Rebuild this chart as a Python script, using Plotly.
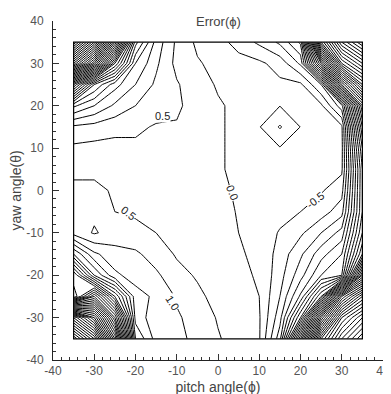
import plotly.graph_objects as go

# grid of pitch (x) and yaw (y) angles, degrees
pitch = [-35, -30, -25, -20, -15, -10, -5, 0, 5, 10, 15, 20, 25, 30, 35]
yaw = [35, 30, 25, 20, 15, 10, 5, 0, -5, -10, -15, -20, -25, -30, -35]

# Error(phi) values, one row per yaw value (top row = yaw 35)
err_y35 = [20, 16, 10, 3.2, 1.3, 0.4, -0.1, -0.3, -0.7, -1.1, -1.6, -2.6, -12, -16, -18]
err_y30 = [15, 11, 5.5, 2.0, 1.1, 0.35, 0.05, -0.15, -0.3, -0.4, -0.7, -1.6, -7, -13, -15]
err_y25 = [7, 3.5, 2.2, 1.5, 0.9, 0.55, 0.2, -0.05, -0.2, -0.3, -0.4, -0.4, -1.5, -8, -12]
err_y20 = [2.6, 2.0, 1.4, 1.0, 0.75, 0.6, 0.25, 0.05, -0.1, -0.3, -0.49, -0.47, -0.4, -1.8, -8]
err_y15 = [0.9, 0.8, 0.65, 0.6, 0.45, 0.45, 0.2, 0.05, -0.1, -0.47, -1.05, -0.49, -0.3, -0.4, -6.5]
err_y10 = [0.4, 0.35, 0.35, 0.4, 0.45, 0.4, 0.2, 0.05, -0.1, -0.2, -0.47, -0.4, -0.3, -0.35, -5.5]
err_y05 = [0.45, 0.4, 0.35, 0.3, 0.25, 0.2, 0.15, 0.05, -0.1, -0.15, -0.2, -0.25, -0.3, -0.4, -5]
err_y00 = [0.55, 0.6, 0.45, 0.3, 0.25, 0.2, 0.15, 0.08, -0.05, -0.15, -0.2, -0.3, -0.45, -0.8, -5]
err_ym05 = [0.7, 0.6, 0.5, 0.45, 0.35, 0.25, 0.15, 0.1, -0.02, -0.15, -0.3, -0.5, -0.75, -1.3, -5]
err_ym10 = [0.8, 0.45, 0.7, 0.6, 0.5, 0.35, 0.2, 0.1, 0.0, -0.15, -0.55, -0.9, -1.5, -2.2, -5.5]
err_ym15 = [3.0, 1.6, 1.2, 1.1, 0.75, 0.45, 0.3, 0.2, 0.05, -0.1, -0.7, -1.4, -2.3, -3, -6.5]
err_ym20 = [6, 3, 1.6, 1.3, 1.1, 0.65, 0.45, 0.3, 0.1, -0.05, -0.8, -1.8, -3, -3.5, -10]
err_ym25 = [5, 8, 4.5, 1.7, 1.4, 0.95, 0.6, 0.35, 0.15, 0.0, -1.0, -2.6, -5.5, -12, -15]
err_ym30 = [16, 13, 8, 1.8, 1.2, 1.05, 0.85, 0.45, 0.2, 0.05, -1.3, -4.5, -11, -16, -18]
err_ym35 = [20, 17, 11, 2.5, 1.3, 1.1, 0.9, 0.55, 0.25, 0.05, -1.8, -8, -15, -18, -20]

z = [err_y35, err_y30, err_y25, err_y20, err_y15, err_y10, err_y05, err_y00,
     err_ym05, err_ym10, err_ym15, err_ym20, err_ym25, err_ym30, err_ym35]

tick_vals = [-40, -30, -20, -10, 0, 10, 20, 30, 40]
tick_text = ["-40", "-30", "-20", "-10", "0", "10", "20", "30", "40"]

# contour labels: (text, pitch, yaw, angle)
label_text = ["0.5", "0.5", "1.0", "0.0", "-0.5"]
label_x = [-13.5, -21.7, -11, 3.6, 23.6]
label_y = [17.5, -5.3, -26.5, -0.5, -2.3]
label_angle = [0, 38, 58, 68, -38]

fig = go.Figure()
fig.add_trace(go.Contour(
    x=pitch, y=yaw, z=z,
    contours=dict(start=-20, end=20, size=0.5, coloring="lines"),
    colorscale=[[0, "black"], [1, "black"]],
    showscale=False,
    line=dict(width=1, smoothing=0),
    hoverinfo="skip",
))

# frame of the data region
fig.add_shape(type="rect", x0=min(pitch), x1=max(pitch), y0=min(yaw), y1=max(yaw),
              line=dict(color="black", width=1.2), layer="above")

for t, lx, ly, la in zip(label_text, label_x, label_y, label_angle):
    fig.add_annotation(x=lx, y=ly, text=t, showarrow=False, textangle=la,
                       bgcolor="white", borderpad=0,
                       font=dict(size=11, color="#222", family="Liberation Sans"))

fig.add_annotation(x=0, y=1.0, xref="x", yref="paper", text="Error(\u03d5)",
                   showarrow=False, yanchor="middle",
                   font=dict(size=13, color="#444", family="Liberation Sans"))

axis_common = dict(
    range=[-40, 40], tickvals=tick_vals, ticktext=tick_text,
    ticks="inside", ticklen=6, tickcolor="#333", tickwidth=1,
    minor=dict(ticks="inside", ticklen=3, dtick=2, tickcolor="#333", tickwidth=1),
    showline=True, linecolor="#222", linewidth=1, mirror=False,
    showgrid=False, zeroline=False, automargin=False,
    tickfont=dict(size=12, color="#555", family="Liberation Sans"),
)

fig.update_layout(
    width=391, height=394,
    margin=dict(l=45, r=16, t=13, b=42),
    paper_bgcolor="white", plot_bgcolor="white",
    showlegend=False,
    xaxis=dict(**axis_common,
               title=dict(text="pitch angle(\u03d5)", standoff=4,
                          font=dict(size=14, color="#444", family="Liberation Sans"))),
    yaxis=dict(**axis_common, ticklabelstandoff=6,
               title=dict(text="yaw angle(\u03b8)", standoff=2,
                          font=dict(size=14, color="#444", family="Liberation Sans"))),
)

fig.write_html("out.html")
